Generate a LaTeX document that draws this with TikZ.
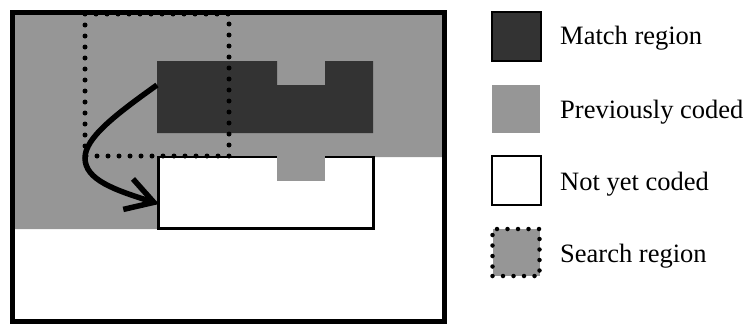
\documentclass[tikz,border=0pt]{standalone}
\usepackage{fontspec}
\setmainfont{Liberation Serif}
\usetikzlibrary{arrows.meta, positioning}
\definecolor{matchgray}{HTML}{333333}
\definecolor{codedgray}{HTML}{969696}

\begin{document}
\begin{tikzpicture}[x=1pt, y=-1pt,
    keybox/.style={rectangle, minimum width=48pt, minimum height=48pt, inner sep=0pt},
    keytext/.style={anchor=base west, inner sep=0pt, font=\fontsize{26.5}{30}\selectfont},
    dotline/.style={line width=5pt, line cap=round, dash pattern=on 0pt off 11pt},
    arrow/.style={-{Straight Barb[length=27pt, width=32pt]}, line width=5.5pt}
]
\useasboundingbox (0,0) rectangle (756,324);

\fill[codedgray] (15,15) -- (442,15) -- (442,157) -- (157,157) -- (157,229) -- (15,229) -- cycle;
\draw[line width=2.5pt, fill=white] (158.5,157) rectangle (373.5,228.5);
\fill[codedgray] (277,155.5) rectangle (325,181);
\fill[matchgray] (157,61) -- (277,61) -- (277,85) -- (325,85) -- (325,61) -- (373,61) -- (373,133) -- (157,133) -- cycle;
\draw[dotline] (85,14) rectangle (229,156);
\draw[line width=5pt] (12.5,12.5) rectangle (444.5,321.5);

\coordinate (matchleft) at (157,85);
\coordinate (blockleft) at (159,204);
\draw[arrow] (matchleft) .. controls (115,115) and (85,138) .. (85,158) .. controls (85,180) and (115,190) .. (blockleft);

\node[keybox, draw=black, line width=2pt, minimum width=49pt, minimum height=49pt, fill=matchgray] (keymatch) at (516.5,36.5) {};
\node[keybox, fill=codedgray] (keycoded) at (516,109) {};
\node[keybox, draw=black, line width=2pt, minimum width=49pt, minimum height=49pt, fill=white] (keynew) at (516,180) {};
\node[keybox, fill=codedgray, draw=black, line width=4.5pt, line cap=round, dash pattern=on 0pt off 10.5pt, minimum width=47pt, minimum height=47pt] (keysearch) at (516,252.5) {};

\node[keytext] (txtmatch) at (560,45) {Match region};
\node[keytext] (txtcoded) at (560,118) {Previously coded};
\node[keytext] (txtnew) at (560,190) {Not yet coded};
\node[keytext] (txtsearch) at (560,262) {Search region};
\end{tikzpicture}
\end{document}
